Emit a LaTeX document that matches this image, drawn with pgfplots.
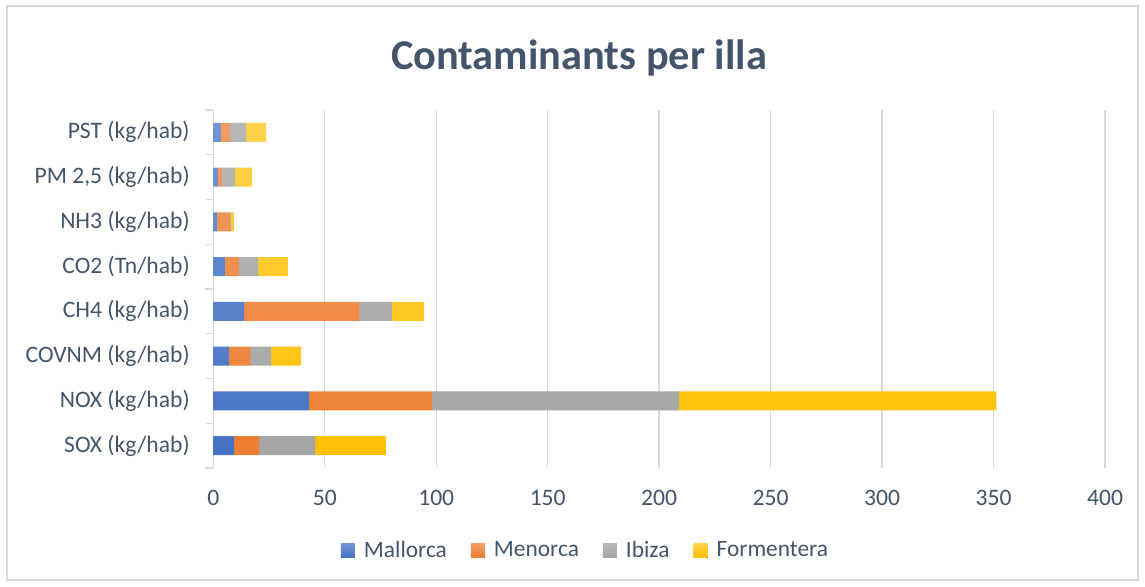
\documentclass[border=0pt]{standalone}
\usepackage{pgfplots}
\pgfplotsset{compat=1.18}
\usepackage{fontspec}
\setmainfont{Carlito}
\definecolor{cMal}{HTML}{4472C4}
\definecolor{cMen}{HTML}{ED7D31}
\definecolor{cIbi}{HTML}{A5A5A5}
\definecolor{cFor}{HTML}{FFC000}
\definecolor{txt}{HTML}{44546A}
\definecolor{gridc}{HTML}{D9D9D9}
\begin{document}
\begin{tikzpicture}
\path[use as bounding box] (0,0) rectangle (572.5pt,293pt);
\draw[gridc,line width=0.6pt] (3.5pt,3pt) rectangle (569pt,290pt);
\node[text=txt,font=\fontsize{21.2}{25}\selectfont\bfseries] at (289.5pt,264pt) {Contaminants per illa};
\begin{axis}[
  at={(106.65pt,59pt)}, anchor=south west,
  scale only axis, width=445.85pt, height=179pt,
  xbar stacked, bar width=9.4pt,
  xmin=0, xmax=400, xtick={0,50,...,400},
  ymin=-0.5, ymax=7.5,
  ytick={0,...,7},
  yticklabels={SOX (kg/hab),NOX (kg/hab),COVNM (kg/hab),CH4 (kg/hab),CO2 (Tn/hab),NH3 (kg/hab),{PM 2,5 (kg/hab)},PST (kg/hab)},
  minor ytick={-0.5,0.5,...,7.5},
  axis lines*=left,
  x axis line style={draw=none},
  y axis line style={draw=gridc,line width=0.6pt},
  xtick style={draw=none},
  major y tick style={draw=none},
  minor y tick style={draw=gridc,line width=0.6pt},
  minor tick length=4pt,
  tick align=outside,
  xmajorgrids=true, ymajorgrids=false, yminorgrids=false,
  major grid style={draw=gridc,line width=0.7pt},
  ticklabel style={text=txt,font=\fontsize{11.8}{14}\selectfont},
  /pgf/number format/assume math mode=true,
  xticklabel style={yshift=-3.5pt},
  yticklabel style={xshift=-4pt},
  legend columns=4,
  legend style={at={(0.4185,-0.231)},anchor=center,draw=none,fill=none,
    text=txt,font=\fontsize{11.7}{14}\selectfont,
    /tikz/every even column/.append style={column sep=10pt}},
  legend image code/.code={\fill[#1] (0pt,-3.5pt) rectangle (7pt,3.5pt);\path (0pt,0pt) -- (9.5pt,0pt);},
  legend cell align=left,
]
\addplot[top color=cMal!75!white,bottom color=cMal,draw=none] coordinates {(9.3,0) (43.0,1) (7.0,2) (13.8,3) (5.2,4) (1.6,5) (2.1,6) (3.4,7)};
\addplot[top color=cMen!75!white,bottom color=cMen,draw=none] coordinates {(11.2,0) (55.2,1) (9.5,2) (51.6,3) (6.3,4) (5.9,5) (1.8,6) (4.1,7)};
\addplot[top color=cIbi!80!white,bottom color=cIbi,draw=none] coordinates {(25.2,0) (110.8,1) (9.4,2) (14.8,3) (8.6,4) (0.4,5) (5.8,6) (7.2,7)};
\addplot[top color=cFor!70!white,bottom color=cFor,draw=none] coordinates {(31.7,0) (142.3,1) (13.5,2) (14.4,3) (13.4,4) (1.4,5) (7.7,6) (9.0,7)};
\legend{Mallorca,Menorca,Ibiza,Formentera}
\end{axis}
\end{tikzpicture}
\end{document}
